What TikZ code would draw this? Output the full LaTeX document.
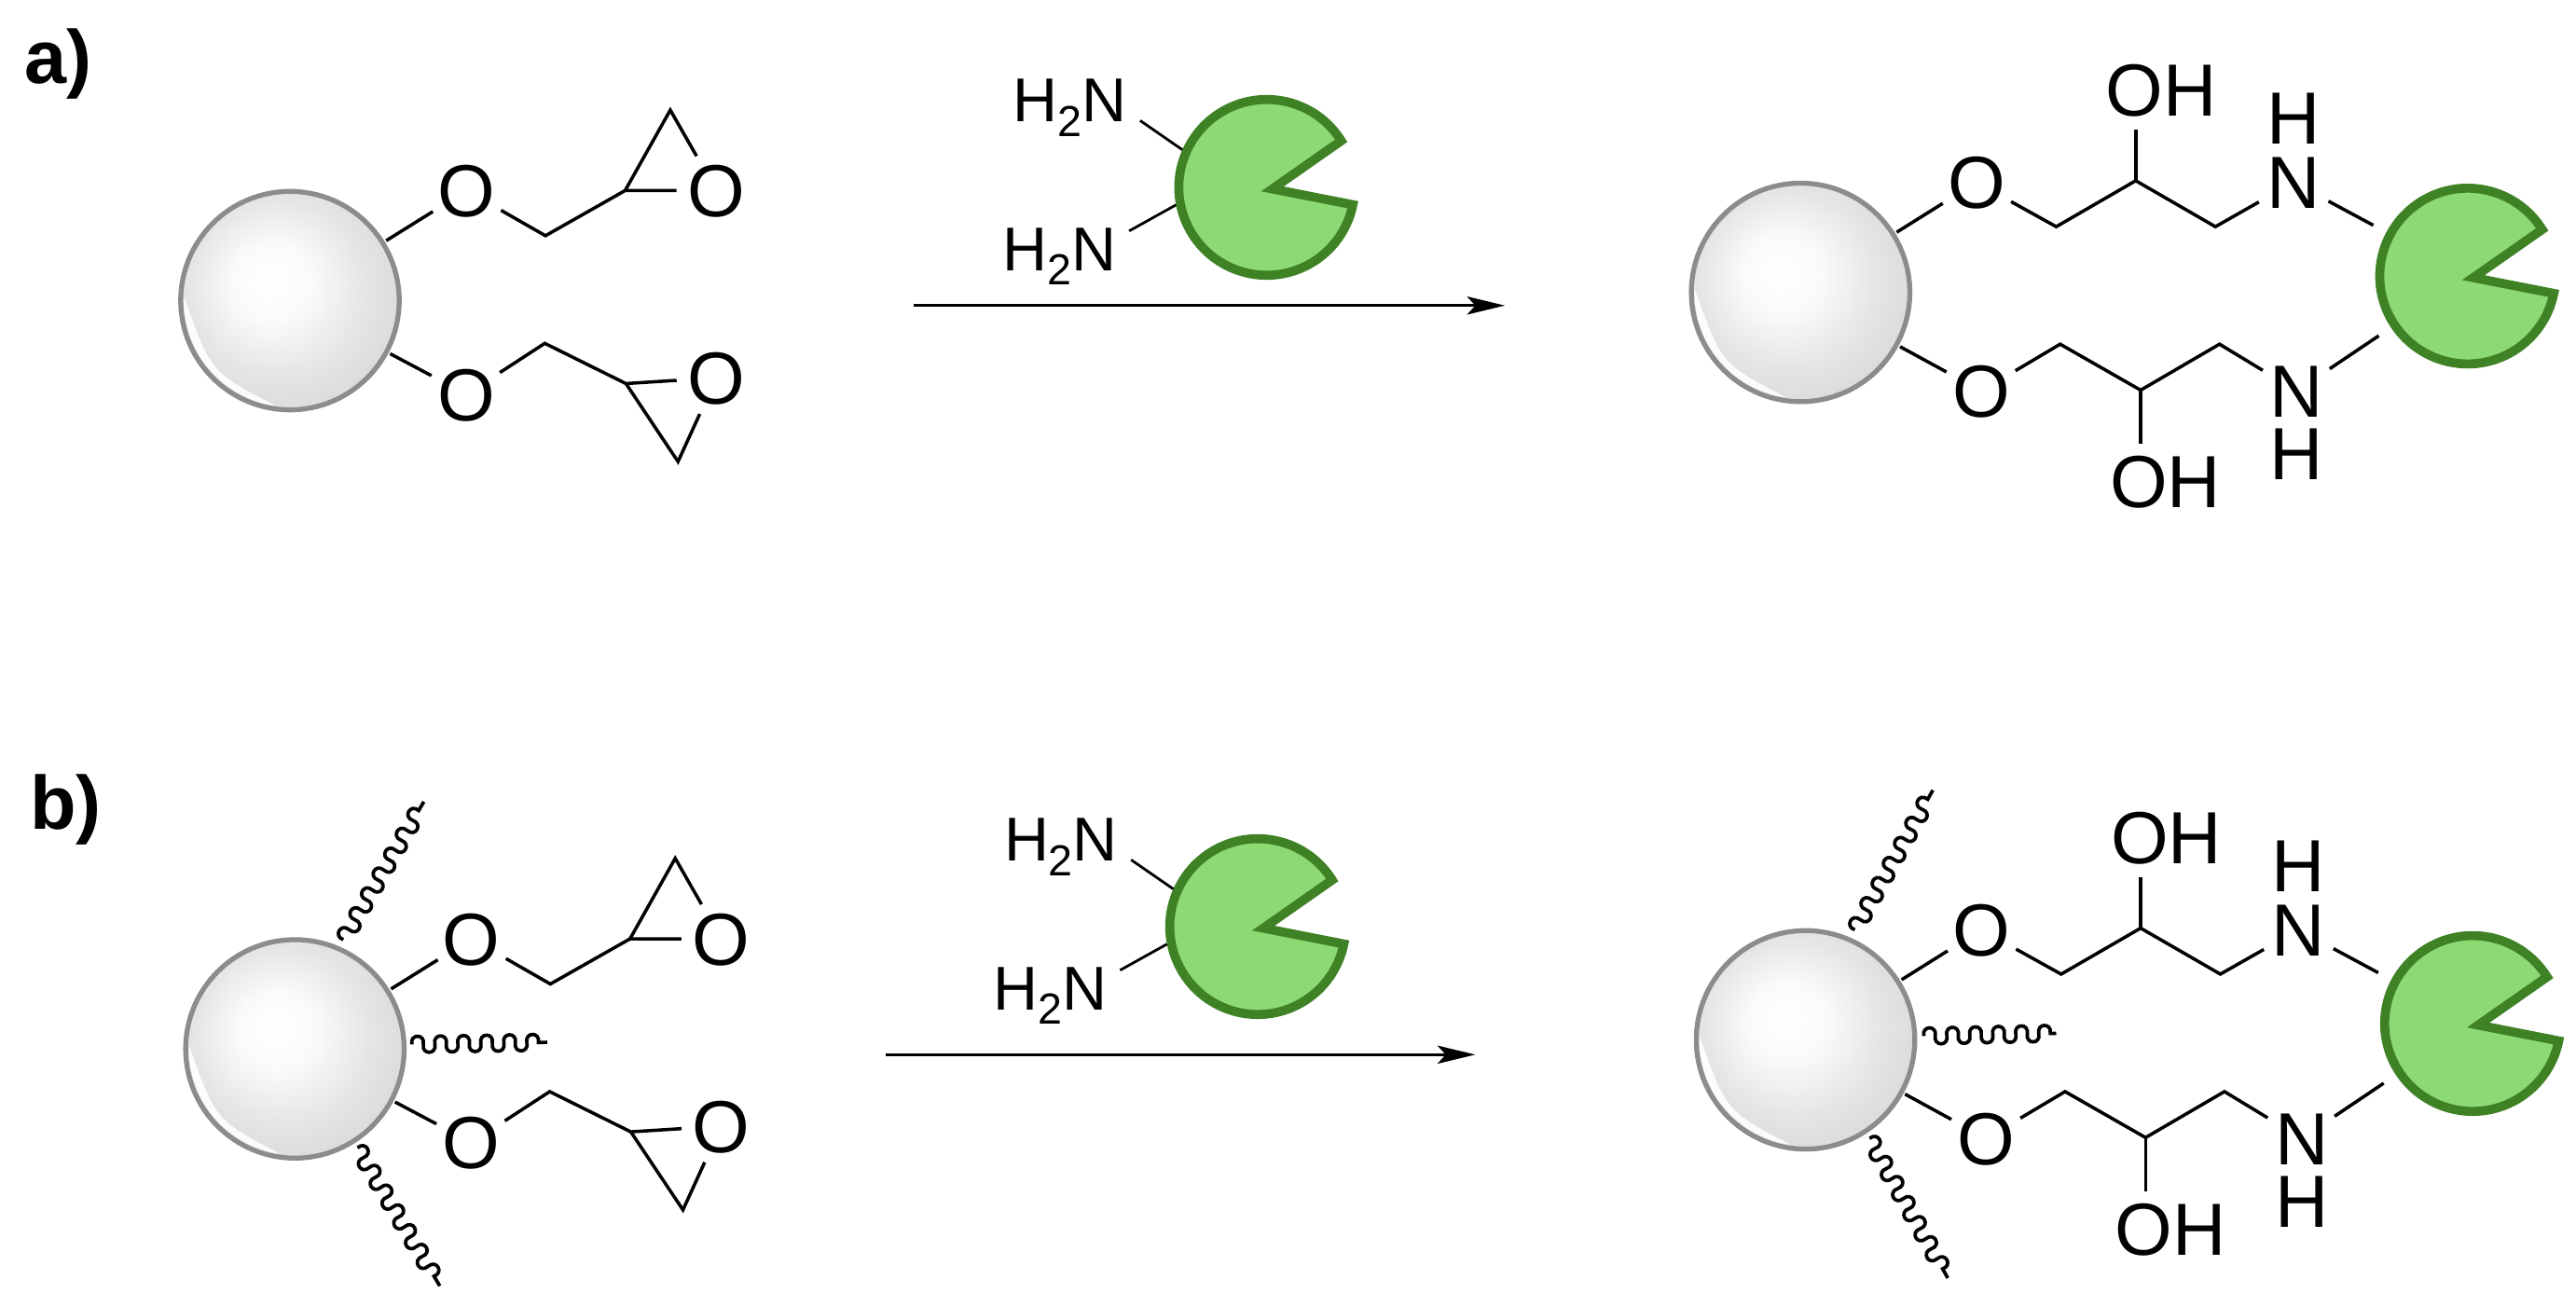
\documentclass[tikz,border=0pt]{standalone}
\usepackage{fontspec}
\setmainfont{Liberation Sans}
\usetikzlibrary{arrows.meta,decorations}
\definecolor{beadedge}{HTML}{8C8C8C}
\definecolor{pacfill}{HTML}{8DD974}
\definecolor{pacedge}{HTML}{3F8226}
\pgfdeclareradialshading{beadshade}{\pgfpoint{-5bp}{5bp}}{color(0bp)=(white); color(9bp)=(white!98!black); color(20bp)=(white!90!black); color(30bp)=(white!85!black); color(50bp)=(white!85!black)}
\pgfdeclaredecoration{curlywave}{up}{
  \state{up}[width=7pt,next state=down]{\pgfpathcurveto{\pgfpoint{-1.3pt}{6.6pt}}{\pgfpoint{8.3pt}{6.6pt}}{\pgfpoint{7pt}{0pt}}}
  \state{down}[width=7pt,next state=up]{\pgfpathcurveto{\pgfpoint{-1.3pt}{-6.6pt}}{\pgfpoint{8.3pt}{-6.6pt}}{\pgfpoint{7pt}{0pt}}}
  \state{final}{\pgfpathlineto{\pgfpointdecoratedpathlast}}
}
\tikzset{
  bond/.style={line width=2pt,black,line cap=butt,line join=miter},
  thinbond/.style={line width=1.6pt,black,line cap=butt},
  atom/.style={circle,inner sep=0pt,minimum size=48pt,text height=32.2pt,text depth=0pt,font=\fontsize{45}{45}\selectfont},
  label text/.style={inner sep=0pt,text height=32.2pt,text depth=0pt,font=\fontsize{45}{45}\selectfont},
  amine/.style={inner sep=0pt,anchor=base west,font=\fontsize{37.7}{37.7}\selectfont},
  panel/.style={inner sep=0pt,anchor=base west,font=\fontsize{46}{46}\selectfont\bfseries},
  bead/.style={circle,draw=beadedge,line width=3pt,inner sep=0pt,minimum size=133pt,outer sep=2.5pt,shading=beadshade},
  wave/.style={line width=2.1pt,black,decorate,decoration={curlywave}},
  reaction/.style={line width=1.6pt,black,-{Stealth[length=23pt,width=11pt,inset=5pt]}},
  pacbody/.style={fill=pacfill,draw=pacedge,line width=5.5pt,line join=miter,miter limit=10},
  pacnode/.style={circle,inner sep=0pt,minimum size=112pt}
}
\newcommand{\beadat}{%
  \node[bead] (bead) at (0,0) {};
  \fill[white,opacity=.9] (178:64.5pt) arc[start angle=178,end angle=262,radius=64.5pt] .. controls (222:65pt) .. (178:64.5pt);
}
\newcommand{\pacat}{%
  \node[pacnode] (pac) at (0,0) {};
  \draw[pacbody] (45.4,-28.3) arc[start angle=32,end angle=348.6,radius=53.5pt] -- (3.5,1) -- cycle;
}
\newcommand{\epoxgroup}{%
  \begin{scope}[shift={(176.5,183)}]\beadat\end{scope}
  \node[atom] (o1) at (284,116) {O};
  \node[atom] (o2) at (436,116) {O};
  \node[atom] (o3) at (284,240) {O};
  \node[atom] (o4) at (436,230) {O};
  \coordinate (c1) at (332,143.5);
  \coordinate (c2) at (380.5,116);
  \coordinate (c3) at (408,67);
  \coordinate (c4) at (331.6,209);
  \coordinate (c5) at (381,233.5);
  \coordinate (c6) at (412.7,281);
  \draw[bond] (bead) -- (o1);
  \draw[bond] (o1) -- (c1) -- (c2) -- (o2);
  \draw[bond] (c2) -- (c3) -- (o2);
  \draw[bond] (bead) -- (o3);
  \draw[bond] (o3) -- (c4) -- (c5) -- (o4);
  \draw[bond] (c5) -- (c6) -- (o4);
}
\newcommand{\productgroup}{%
  \begin{scope}[shift={(1099,633)}]\beadat\end{scope}
  \begin{scope}[shift={(1505,623)}]\pacat\end{scope}
  \node[atom] (po1) at (1206,566) {O};
  \node[atom] (pn1) at (1399,566) {N};
  \node[label text] (ph1) at (1399,526.5) {H};
  \node[label text] (poh1) at (1318.7,509.7) {OH};
  \coordinate (pa1) at (1254.6,593);
  \coordinate (pa2) at (1303,565);
  \coordinate (pa3) at (1351.5,593);
  \coordinate (pa4) at (1303,533.8);
  \draw[bond] (bead) -- (po1);
  \draw[bond] (po1) -- (pa1) -- (pa2) -- (pa3) -- (pn1);
  \draw[bond] (pa2) -- (pa4);
  \draw[bond,shorten >=9pt] (pn1) -- (pac);
  \node[atom] (po2) at (1209,693) {O};
  \node[atom] (pn2) at (1401,693) {N};
  \node[label text] (ph2) at (1401,731) {H};
  \node[label text] (poh2) at (1321,748) {OH};
  \coordinate (pb1) at (1257,664.5);
  \coordinate (pb2) at (1306,692.5);
  \coordinate (pb3) at (1354,664.5);
  \coordinate (pb4) at (1306,725);
  \draw[bond] (bead) -- (po2);
  \draw[bond] (po2) -- (pb1) -- (pb2) -- (pb3) -- (pn2);
  \draw[bond] (pb2) -- (pb4);
  \draw[bond,shorten >=9pt] (pn2) -- (pac);
}
\newcommand{\reagentgroup}{%
  \begin{scope}[shift={(771,114)}]\pacat\end{scope}
  \node[amine] (am1) at (616.5,74.3) {H\raisebox{-8.9pt}{\fontsize{26.5}{26.5}\selectfont 2}N};
  \node[amine] (am2) at (610,164.6) {H\raisebox{-8.9pt}{\fontsize{26.5}{26.5}\selectfont 2}N};
  \coordinate (am1e) at (694,73.4);
  \coordinate (am2e) at (687.3,140.6);
  \draw[thinbond] (am1e) -- (pac.156.7);
  \draw[thinbond] (am2e) -- (pac.191.9);
}
\begin{document}
\begin{tikzpicture}[x=1pt,y=-1pt]
\useasboundingbox (0,0) rectangle (1568,795.6);
\fill[white] (0,0) rectangle (1568,795.6);
\node[panel] (la) at (15,51) {a)};
\node[panel] (lb) at (18,505) {b)};
% panel a
\begin{scope}[name prefix=a1-]\epoxgroup\end{scope}
\begin{scope}[name prefix=a2-]\reagentgroup\end{scope}
\begin{scope}[shift={(-3,-455)},name prefix=a3-]\productgroup\end{scope}
\coordinate (as) at (556,186);
\coordinate (ae) at (916,186);
\draw[reaction] (as) -- (ae);
% panel b
\begin{scope}[shift={(3,455.5)},name prefix=b1-]\epoxgroup\end{scope}
\begin{scope}[shift={(-5.5,450)},name prefix=b2-]\reagentgroup\end{scope}
\begin{scope}[name prefix=b3-]\productgroup\end{scope}
\coordinate (bs) at (539,642);
\coordinate (be) at (898,642);
\draw[reaction] (bs) -- (be);
% chains
\coordinate (w1s) at (209,572); \coordinate (w1e) at (258,488);
\coordinate (w2s) at (250.7,635.8); \coordinate (w2e) at (333,634.5);
\coordinate (w3s) at (217.6,698.7); \coordinate (w3e) at (267.7,782.8);
\coordinate (w4s) at (1129,566); \coordinate (w4e) at (1176.5,481);
\coordinate (w5s) at (1171,630.7); \coordinate (w5e) at (1251.6,629);
\coordinate (w6s) at (1138,693); \coordinate (w6e) at (1185.6,778);
\foreach \n in {1,...,6} {\draw[wave] (w\n s) -- (w\n e);}
\end{tikzpicture}
\end{document}
